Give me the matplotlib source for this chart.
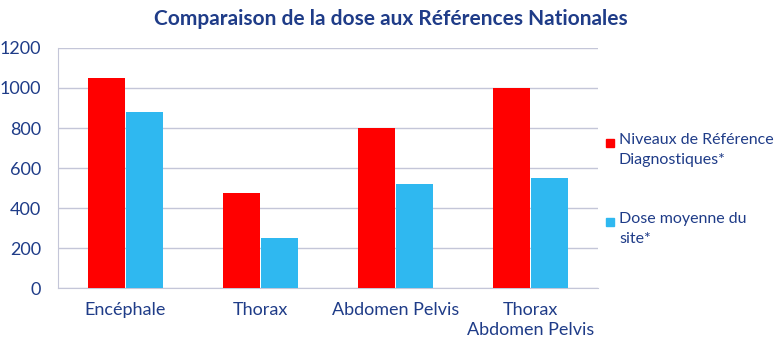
import matplotlib
matplotlib.use("Agg")
import matplotlib.pyplot as plt
from matplotlib.patches import Rectangle
import numpy as np

categories = ["Encéphale", "Thorax", "Abdomen Pelvis", "Thorax\nAbdomen Pelvis"]
nrd = [1050, 475, 800, 1000]
site = [880, 250, 520, 550]
series_labels = ["Niveaux de Référence\nDiagnostiques*", "Dose moyenne du\nsite*"]

navy = "#1f3c88"
red = "#ff0000"
blue = "#2fb8f0"
grid = "#c4c6d8"

plt.rcParams["font.family"] = ["Lato", "DejaVu Sans"]

W, H = 781, 355
fig = plt.figure(figsize=(W / 100, H / 100), dpi=100)
ax = fig.add_axes([0.0743, 0.1887, 0.6914, 0.6761])

x = np.arange(len(categories))
w = 0.275
ax.bar(x - w / 2 - 0.004, nrd, w, color=red, zorder=3)
ax.bar(x + w / 2 + 0.004, site, w, color=blue, zorder=3)

ax.set_xlim(-0.5, 3.5)
ax.set_ylim(0, 1200)
ax.set_yticks(range(0, 1201, 200))
ax.yaxis.grid(True, color=grid, linewidth=1, zorder=0)
ax.set_xticks(x)
ax.set_xticklabels(categories, color=navy, fontsize=13, linespacing=1.3)
ax.tick_params(axis="y", colors=navy, labelsize=13, length=0, pad=12)
ax.tick_params(axis="x", length=0, pad=10)
for s in ["top", "right"]:
    ax.spines[s].set_visible(False)
for s in ["left", "bottom"]:
    ax.spines[s].set_color(grid)

fig.suptitle("Comparaison de la dose aux Références Nationales", color=navy,
             fontsize=15, fontweight="bold", x=0.5, y=0.975)

# legend drawn by hand: square sits beside the first line of each label
for label, col, ytop in zip(series_labels, [red, blue], [133, 212]):
    fig.patches.append(Rectangle((606 / W, 1 - (ytop + 14) / H), 8 / W, 8 / H,
                                 transform=fig.transFigure, color=col))
    fig.text(619 / W, 1 - ytop / H, label, color=navy, fontsize=11.5,
             va="top", ha="left", linespacing=1.55)

plt.savefig("out.png", dpi=100)
